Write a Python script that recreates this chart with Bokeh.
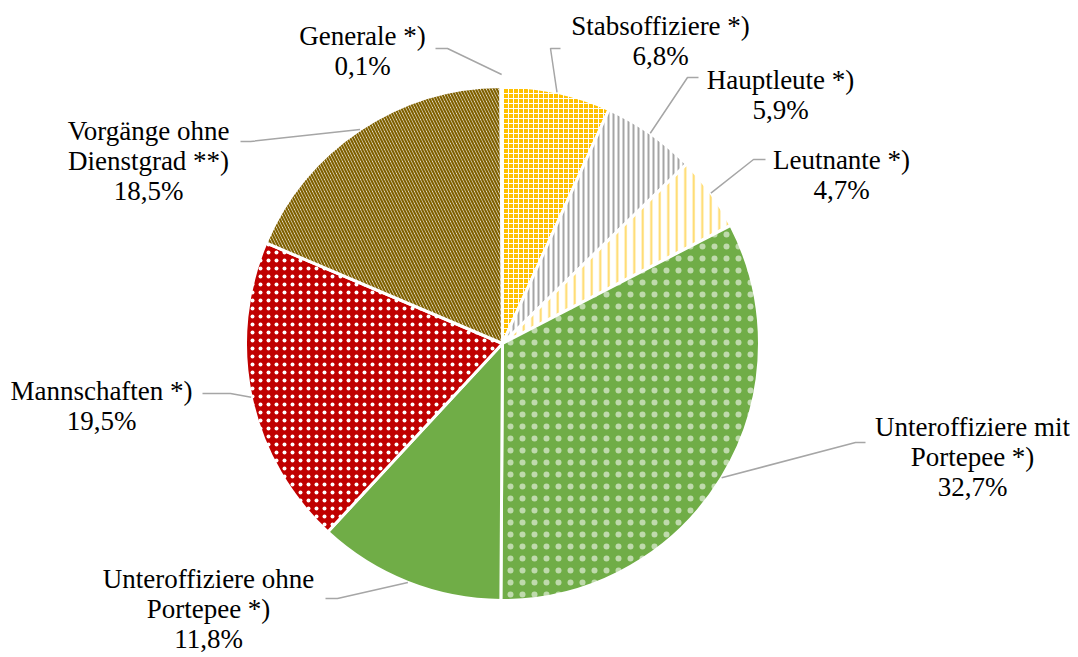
import numpy as np
from bokeh.plotting import figure
from bokeh.models import Range1d
from bokeh.core.properties import value
from bokeh.embed import file_html
from bokeh.resources import INLINE

# ---- data ----
label_lines = [
    ["Stabsoffiziere *)"],
    ["Hauptleute *)"],
    ["Leutnante *)"],
    ["Unteroffiziere mit", "Portepee *)"],
    ["Unteroffiziere ohne", "Portepee *)"],
    ["Mannschaften *)"],
    ["Vorgänge ohne", "Dienstgrad **)"],
    ["Generale *)"],
]
shares = [6.8, 5.9, 4.7, 32.7, 11.8, 19.5, 18.5, 0.1]

# ---- styles ----
fill_colors = ["#FFC000", "#FFFFFF", "#FFFFFF", "#70AD47", "#70AD47", "#C00000", "#FFFFFF", "#843C0C"]
hatch_patterns = ["+", "|", "|", ".", None, ".", "\\", None]
hatch_colors = ["#FFFFFF", "#A5A5A5", "#FFD966", "#FFFFFF", None, "#FFFFFF", "#7F6000", None]
hatch_scales = [5, 5, 8.5, 12, 12, 8, 6, 12]
hatch_weights = [1, 2, 2, 0.3, 1, 0.5, 2.2, 1]
hatch_alphas = [1, 1, 1, 0.55, 1, 1, 1, 1]

# ---- layout (screen px) ----
H = 657
CX, CY, R = 502, 343, 257
label_x = [660, 780, 841, 972, 208, 101, 148, 362]
label_y = [25, 79, 159, 426, 578, 390, 130, 35]
line_gap = 30
leader_r = [257, 257, 257, 257, 257, 257, 257, 269]
elbow = [(550, 48), (687, 77), (753, 159), (855, 442), (337, 598), (230, 393), (250, 141), (447, 48)]
lend = [(560, 48), (698, 77), (765, 159), (865, 442), (325, 598), (202, 393), (240, 141), (435, 48)]


def sy(y):
    return H - y


p = figure(width=1070, height=652, output_backend="svg", toolbar_location=None,
           x_range=Range1d(0, 1070), y_range=Range1d(5, 657), min_border=0)
p.axis.visible = False
p.grid.visible = False
p.outline_line_color = None
p.background_fill_color = "white"

vals = np.array(shares, dtype=float)
frac = vals / vals.sum()
cum = np.concatenate([[0], np.cumsum(frac)])

for i in range(len(shares)):
    start = np.pi / 2 - 2 * np.pi * cum[i]
    end = np.pi / 2 - 2 * np.pi * cum[i + 1]
    kw = dict(fill_color=fill_colors[i], line_color="white", line_width=3)
    if hatch_patterns[i]:
        kw.update(hatch_pattern=hatch_patterns[i], hatch_color=hatch_colors[i],
                  hatch_scale=hatch_scales[i], hatch_weight=hatch_weights[i],
                  hatch_alpha=hatch_alphas[i])
    p.wedge(x=CX, y=sy(CY), radius=R, start_angle=start, end_angle=end,
            direction="clock", **kw)

# leader lines
xs, ys = [], []
for i in range(len(shares)):
    mid = 2 * np.pi * (cum[i] + cum[i + 1]) / 2
    x0 = CX + leader_r[i] * np.sin(mid)
    y0 = CY - leader_r[i] * np.cos(mid)
    xs.append([x0, elbow[i][0], lend[i][0]])
    ys.append([sy(y0), sy(elbow[i][1]), sy(lend[i][1])])
p.multi_line(xs=xs, ys=ys, line_color="#A6A6A6", line_width=1.5)

# labels
tx, ty, tt = [], [], []
for i in range(len(shares)):
    lines = label_lines[i] + [f"{shares[i]:.1f}".replace(".", ",") + "%"]
    for j, t in enumerate(lines):
        tx.append(label_x[i])
        ty.append(sy(label_y[i] + j * line_gap))
        tt.append(t)
p.text(x=tx, y=ty, text=tt, text_font=value("Liberation Serif"), text_font_size="27px",
       text_align="center", text_baseline="middle", text_color="#000000")

open("out.html", "w").write(file_html(p, INLINE))
